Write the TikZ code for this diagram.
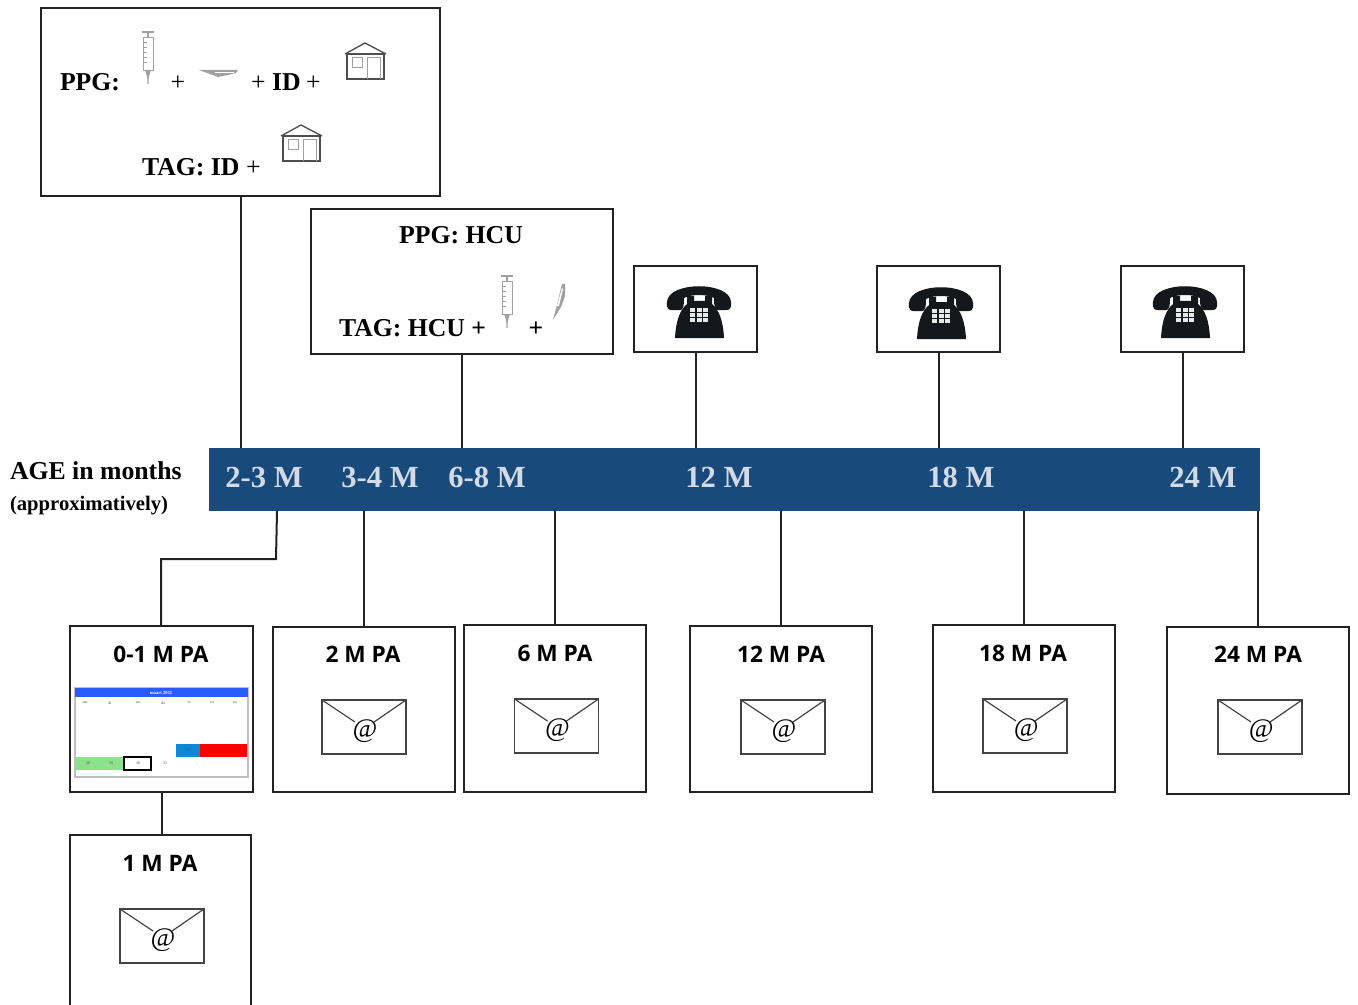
\documentclass[tikz,border=0pt]{standalone}
\usepackage{fontspec}
\setmainfont{Liberation Serif}
\newfontfamily\labfont{Open Sans}
\definecolor{barblue}{HTML}{194A7C}
\definecolor{barlabel}{HTML}{D3DBE6}
\definecolor{edgec}{HTML}{222222}
\definecolor{icong}{HTML}{A0A0A0}
\definecolor{phonec}{HTML}{14171C}
\newcommand{\pxbox}[6][]{\node[boxed,#1,minimum width={(#5-#3)*0.75pt},minimum height={(#6-#4)*0.75pt}] (#2) at ({(#3+#5)/2},{(#4+#6)/2}) {};}
\tikzset{
 x=0.75pt,y=-0.75pt,
 boxed/.style={draw=edgec,line width=1.5pt,fill=white,inner sep=0pt,outer sep=0pt},
 conn/.style={draw=edgec,line width=1.5pt},
 txt/.style={inner sep=0pt,outer sep=0pt,anchor=base west,font=\bfseries\fontsize{19.3}{22}\selectfont,text=black},
 txtc/.style={txt,anchor=base},
 barlab/.style={inner sep=0pt,outer sep=0pt,anchor=base,font=\bfseries\fontsize{23}{26}\selectfont,text=barlabel},
 palab/.style={inner sep=0pt,outer sep=0pt,anchor=base,font=\labfont\bfseries\fontsize{17}{20}\selectfont,text=black},
 syringe/.pic={
  \draw[icong,line width=.7pt,fill=white] (-5,7) rectangle (5,40);
  \draw[icong,line width=1.2pt] (-6,2) -- (6,2);
  \draw[icong,line width=1.2pt] (0,2) -- (0,7);
  \draw[icong,line width=.5pt] (-5,12) -- (-1,12) (-5,17) -- (-1,17) (-5,22) -- (-1,22) (-5,27) -- (-1,27) (-5,32) -- (-1,32);
  \fill[icong] (-3,40) -- (3,40) -- (.8,47) -- (.5,54) -- (-.5,54) -- (-.8,47) -- cycle;
 },
 house/.pic={
  \draw[edgec!80,line width=1pt] (-20,11) -- (0,0) -- (21,11);
  \draw[edgec!80,line width=.9pt] (-18,11) -- (-18,36) -- (19,36) -- (19,11) -- cycle;
  \draw[icong,line width=.7pt] (-13,14) rectangle (-3,24);
  \draw[icong,line width=.7pt] (2,36) -- (2,14) -- (15,14) -- (15,36);
 },
 envelope/.pic={
  \draw[edgec!85,line width=.8pt,fill=white] (0,0) rectangle (84,54);
  \draw[edgec!85,line width=.9pt] (0,0) -- (33,22) (84,0) -- (52,22);
  \node[inner sep=0pt,font=\itshape\fontsize{20}{22}\selectfont,text=black] (-at) at (43,31) {@};
 },
 phone/.pic={
  \fill[phonec] (-32,-10) .. controls (-31,-31) and (31,-31) .. (32,-10)
    .. controls (33,-3) and (30,-2) .. (27,-2) -- (19,-2)
    .. controls (16,-2) and (15,-5) .. (15,-14)
    .. controls (8,-18) and (-8,-18) .. (-15,-14)
    .. controls (-15,-5) and (-16,-2) .. (-19,-2) -- (-27,-2)
    .. controls (-30,-2) and (-33,-3) .. (-32,-10) -- cycle;
  \fill[phonec] (-12,-16) -- (-5,-16) -- (-5,-11) -- (6,-11) -- (6,-16) -- (13,-16) -- (13,-8)
    .. controls (20,-2) and (24,8) .. (25,26) -- (-24,26)
    .. controls (-23,8) and (-19,-2) .. (-12,-8) -- cycle;
  \foreach \i in {-9,-2.5,4} \foreach \j in {-4,1,6} \fill[white!90!phonec] (\i,\j) rectangle (\i+5,\j+3.5);
 },
 calcell/.style={inner sep=0pt,font=\fontsize{3}{3}\selectfont,text=black!70},
}
\begin{document}
\begin{tikzpicture}
\useasboundingbox (0,0) rectangle (1358,1005);
% bar
\pxbox[draw=none,fill=barblue]{bar}{209}{448}{1260}{511}
% upper boxes
\pxbox{t1}{41}{8}{440}{196}
\pxbox{t2}{311}{209}{613}{354}
\pxbox{p1}{634}{266}{757}{352}
\pxbox{p2}{877}{266}{1000}{352}
\pxbox{p3}{1121}{266}{1244}{352}
% lower boxes
\pxbox{b0}{70}{626}{253}{792}
\pxbox{b2}{273}{627}{455}{792}
\pxbox{b6}{464}{625}{646}{792}
\pxbox{b12}{690}{626}{872}{792}
\pxbox{b18}{933}{625}{1115}{792}
\pxbox{b24}{1167}{627}{1349}{794}
\pxbox{b1}{70}{835}{251}{1006}
% connectors
\foreach \n in {t1,p1,p2,p3} \draw[conn,xshift=-0.375pt] (\n.south) -- (\n.south |- bar.north);
\draw[conn] (t2.south) -- (t2.south |- bar.north);
\foreach \n in {b2,b6,b12,b18,b24} \draw[conn] (bar.south -| \n.north) -- (\n.north);
\coordinate (j0) at (277,511);
\coordinate (j1) at (276,559);
\coordinate (j2) at (161,559);
\draw[conn] (j0) -- (j1) -- (j2) -- (j2 |- b0.north);
\draw[conn,xshift=-0.375pt] (b0.south) -- (b0.south |- b1.north);
% bar text
\node[barlab] (l1) at (264,487) {2-3 M};
\node[barlab] (l2) at (380,487) {3-4 M};
\node[barlab] (l3) at (487,487) {6-8 M};
\node[barlab] (l4) at (719,487) {12 M};
\node[barlab] (l5) at (961,487) {18 M};
\node[barlab] (l6) at (1203,487) {24 M};
\node[txt] (age) at (10,479) {AGE in months};
\node[txt,font=\bfseries\fontsize{15.5}{18}\selectfont] (appr) at (10,510) {(approximatively)};
% top box 1
\node[txt] (ppg) at (60,91) {PPG:};
\pic at (148,30) {syringe};
\node[txtc,font=\fontsize{19.3}{22}\selectfont] (pl1) at (178,91) {+};
\fill[icong] (199,70) -- (238,70) -- (236,73) -- (228,75) -- (218,77) -- (210,74) -- cycle;
\draw[white,line width=.5pt] (215,72) -- (234,72);
\node[txt,font=\fontsize{19.3}{22}\selectfont] (pl2) at (251,91) {+};
\node[txt] (id1) at (272,91) {ID};
\node[txt,font=\fontsize{19.3}{22}\selectfont] (pl3) at (306,91) {+};
\pic at (365,43) {house};
\node[txt] (tag1) at (142,176) {TAG: ID};
\node[txt,font=\fontsize{19.3}{22}\selectfont] (pl4) at (246,176) {+};
\pic at (301,125) {house};
% top box 2
\node[txtc] (ppg2) at (461,244) {PPG: HCU};
\node[txt] (tag2) at (339,336) {TAG: HCU +};
\pic at (507,274) {syringe};
\node[txtc] (pl5) at (536,336) {+};
\fill[icong] (553,320) -- (557,305) -- (562,284) -- (565,284) -- (565,296) -- (561,307) -- cycle;
\fill[white] (557,306) -- (562,288) -- (563,289) -- (559,306) -- cycle;
% phones
\pic at (699,312) {phone};
\pic at (941,313) {phone};
\pic at (1185,312) {phone};
% lower labels
\node[palab] (a0) at (161,662) {0-1 M PA};
\node[palab] (a2) at (363,662) {2 M PA};
\node[palab] (a6) at (555,661) {6 M PA};
\node[palab] (a12) at (781,662) {12 M PA};
\node[palab] (a18) at (1023,661) {18 M PA};
\node[palab] (a24) at (1258,662) {24 M PA};
\node[palab] (a1) at (160,871) {1 M PA};
% envelopes
\pic at (322,700) {envelope};
\pic at (514.5,699) {envelope};
\pic at (741,700) {envelope};
\pic at (983,699) {envelope};
\pic at (1218,700) {envelope};
\pic at (120,909) {envelope};
% calendar
\draw[black!25,line width=.8pt] (75,688) rectangle (248,777);
\fill[blue!80!white!80!cyan] (75,688) rectangle (248,697);
\node[calcell,text=white,font=\bfseries\fontsize{3.5}{4}\selectfont] (cal) at (161,692.5) {maart 2011};
\foreach \x/\t in {85/ma,110/di,138/wo,163/do,189/vr,212/za,235/zo}
  \node[calcell] at (\x,703) {\t};
\fill[blue!0!cyan!70!blue] (176,744) rectangle (200,757);
\fill[red] (200,744) rectangle (247,757);
\fill[green!75!black!45!white] (76,757) rectangle (124,770);
\draw[black,line width=1pt] (124,757) rectangle (151,770);
\foreach \x/\t/\y in {188/25/750.5,212/26/750.5,236/27/750.5,88/28/763.5,111/29/763.5,138/30/763.5,165/31/763.5}
  \node[calcell] at (\x,\y) {\t};
\end{tikzpicture}
\end{document}
